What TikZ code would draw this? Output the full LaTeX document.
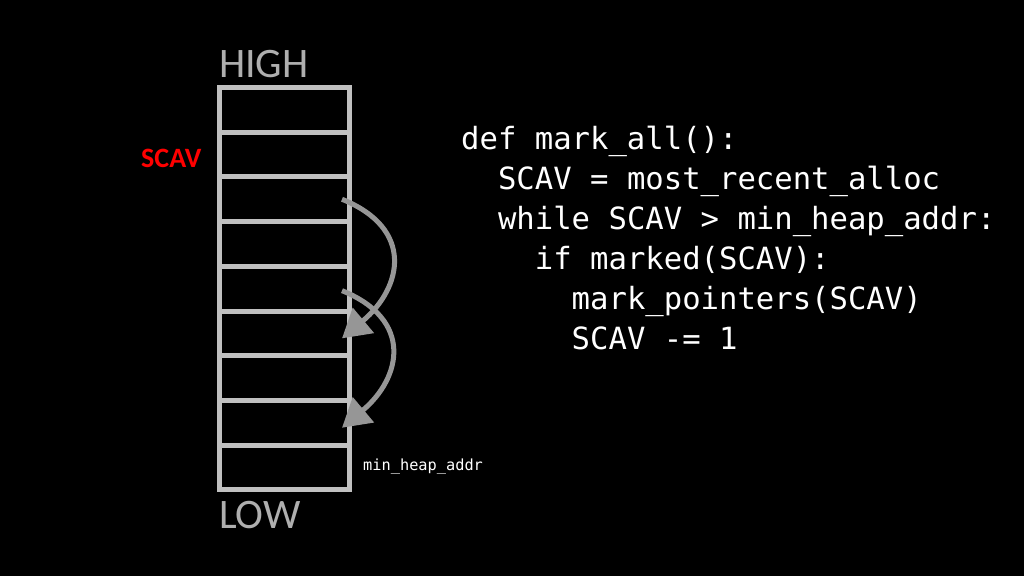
\documentclass[tikz,border=0pt]{standalone}
\usepackage{fontspec}
\setmainfont{Carlito}
\setmonofont{DejaVu Sans Mono}
\usepackage{tikz}
\usetikzlibrary{arrows.meta,positioning}

\definecolor{slot}{RGB}{192,192,192}
\definecolor{hop}{RGB}{150,150,150}
\definecolor{lbl}{RGB}{175,175,175}

\begin{document}
\begin{tikzpicture}[
  x=1pt, y=1pt,
  cell/.style={draw=slot, line width=5pt, minimum width=130pt, minimum height=44.7pt,
    inner sep=0pt},
  hopp/.style={draw=hop, line width=5pt, -{Triangle[length=28pt,width=32pt]}},
  code/.style={text=white, inner sep=0pt, align=left,
    font=\fontsize{30.6}{40}\selectfont\ttfamily},
  ends/.style={text=lbl, inner sep=0pt, anchor=base west, font=\fontsize{42}{42}\selectfont}
]
\fill[black] (0,0) rectangle (1024,-576);
\useasboundingbox (0,0) rectangle (1024,-576);

% heap slots, top = high addresses
\foreach \i in {1,...,9}
  \node[cell] (c\i) at (284.5,{-87.5-44.7*(\i-0.5)}) {};

\node[ends] (high) at (219,-77) {HIGH};
\node[ends] (low) at (219,-528) {LOW};
\node[anchor=base west, inner sep=0pt, text=red, font=\fontsize{28}{28}\selectfont\bfseries]
  (scav) at (141,-167) {SCAV};
\node[anchor=base west, inner sep=0pt, text=white, font=\fontsize{15.3}{15}\selectfont\ttfamily]
  (minh) at (363,-470) {min\_heap\_addr};

% scanning hops
\draw[hopp] ([xshift=-10pt]c3.east) to[out=-22, in=40, looseness=1.45] ([xshift=-10pt,yshift=-5pt]c6.east);
\draw[hopp] ([xshift=-10pt,yshift=-2pt]c5.east) to[out=-22, in=40, looseness=1.45] ([xshift=-10pt,yshift=-5pt]c8.east);

\node[code, anchor=north west] (prog) at (461,-126) {%
def mark\_all():\\
~~SCAV = most\_recent\_alloc\\
~~while SCAV > min\_heap\_addr:\\
~~~~if marked(SCAV):\\
~~~~~~mark\_pointers(SCAV)\\
~~~~~~SCAV -= 1};
\end{tikzpicture}
\end{document}
